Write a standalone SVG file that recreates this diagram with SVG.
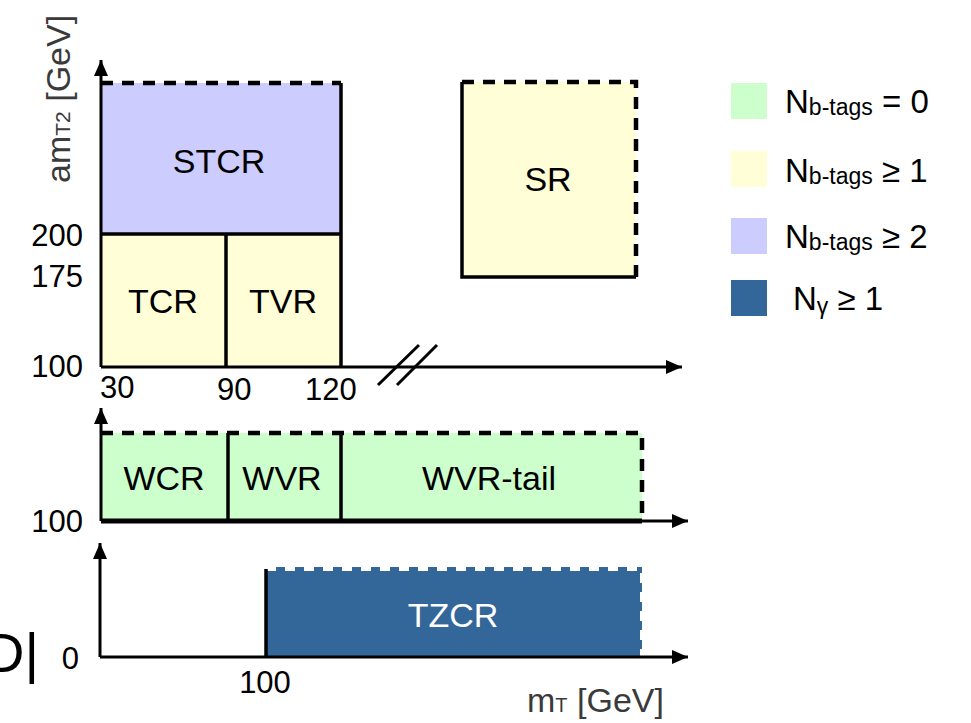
<svg xmlns="http://www.w3.org/2000/svg" width="971" height="723" viewBox="0 0 971 723">
<style>
text{font-family:"Liberation Sans",Arial,sans-serif;fill:#000}
.lbl{font-size:34px;text-anchor:middle}
.tick{font-size:31px}
.title{font-size:34px;fill:#3a3a3a}
.leg{font-size:33px}
.sub{font-size:23px}
.axis{stroke:#000;stroke-width:3;fill:none}
.solid{stroke:#000;stroke-width:3.5;fill:none}
.dash{stroke:#000;stroke-width:4.5;stroke-dasharray:12 9;fill:none}
.wdash{stroke:#fff;stroke-width:4;stroke-dasharray:10 9;fill:none}
.blue{fill:#336699}
.yel{fill:#fffed6}
.lav{fill:#ccccff}
.grn{fill:#ccffcc}
</style>
<defs>
<marker id="arr" viewBox="0 0 16 14" refX="16" refY="7" markerWidth="16" markerHeight="14" markerUnits="userSpaceOnUse" orient="auto">
<path d="M0,0 L16,7 L0,14 z" fill="#000"/>
</marker>
</defs>
<rect width="971" height="723" fill="#fff"/>

<!-- top panel -->
<g id="STCR">
<rect x="101" y="83" width="240" height="151" class="lav"/>
<text x="219" y="173" class="lbl">STCR</text>
</g>
<g id="TCR">
<rect x="101" y="234" width="125" height="133" class="yel"/>
<text x="163" y="313" class="lbl">TCR</text>
</g>
<g id="TVR">
<rect x="226" y="234" width="115" height="133" class="yel"/>
<text x="283" y="313" class="lbl">TVR</text>
</g>
<g id="SR">
<rect x="462" y="82" width="174" height="195" class="yel"/>
<path d="M462,82 V277 H636" class="solid"/>
<path d="M462,82 H636 V277" class="dash"/>
<text x="548" y="191" class="lbl">SR</text>
</g>

<!-- middle panel -->
<g id="WCR">
<rect x="101" y="433" width="127" height="88" class="grn"/>
<text x="164" y="490" class="lbl">WCR</text>
</g>
<g id="WVR">
<rect x="228" y="433" width="113" height="88" class="grn"/>
<text x="282" y="490" class="lbl">WVR</text>
</g>
<g id="WVR-tail">
<rect x="341" y="433" width="301" height="88" class="grn"/>
<text x="489" y="490" class="lbl">WVR-tail</text>
</g>

<!-- bottom panel -->
<g id="TZCR">
<rect x="266" y="567" width="376" height="90" class="blue"/>
<path d="M266,569 H642 V657" class="wdash"/>
<line x1="266" y1="569" x2="266" y2="657" class="solid" stroke-width="3"/>
<text x="453" y="627" class="lbl" style="fill:#fff">TZCR</text>
</g>

<g id="connectors">
<path d="M101,83 H341" class="dash"/>
<path d="M341,83 V367 M101,234 H341 M226,234 V367" class="solid"/>
<line x1="101" y1="367" x2="101" y2="60" class="axis" marker-end="url(#arr)"/>
<line x1="101" y1="367" x2="682" y2="367" class="axis" marker-end="url(#arr)"/>
<path d="M378,385 L419,345 M397,385 L437,345" class="axis"/>
<path d="M101,433 H642 V521" class="dash"/>
<path d="M228,433 V521 M341,433 V521" class="solid"/>
<path d="M101,521 H642" stroke="#000" stroke-width="5"/>
<line x1="101" y1="521" x2="101" y2="408" class="axis" marker-end="url(#arr)"/>
<line x1="101" y1="521" x2="688" y2="521" class="axis" marker-end="url(#arr)"/>
<line x1="100" y1="657" x2="100" y2="543" class="axis" marker-end="url(#arr)"/>
<line x1="100" y1="657" x2="688" y2="657" class="axis" marker-end="url(#arr)"/>
</g>

<g id="ticks">
<text x="83" y="246" class="tick" text-anchor="end">200</text>
<text x="83" y="287" class="tick" text-anchor="end">175</text>
<text x="83" y="377" class="tick" text-anchor="end">100</text>
<text x="100" y="398" class="tick">30</text>
<text x="217" y="400" class="tick">90</text>
<text x="305" y="400" class="tick">120</text>
<text x="83" y="532" class="tick" text-anchor="end">100</text>
<text x="79" y="669" class="tick" text-anchor="end">0</text>
<text x="265" y="693" class="tick" text-anchor="middle">100</text>
<text x="-16" y="672" style="font-size:56px">D|</text>
</g>

<g id="axis-titles">
<text class="title" transform="translate(70,183) rotate(-90)">am<tspan style="font-size:21px">T2</tspan> [GeV]</text>
<text class="title" x="527" y="712">m<tspan style="font-size:20px">T</tspan> [GeV]</text>
</g>

<g id="legend">
<rect x="731" y="83" width="36" height="36" class="grn"/>
<text x="785" y="113" class="leg">N<tspan class="sub" dy="2">b-tags</tspan><tspan dy="-2"> = 0</tspan></text>
<rect x="731" y="151" width="36" height="36" class="yel"/>
<text x="785" y="182" class="leg">N<tspan class="sub" dy="2">b-tags</tspan><tspan dy="-2"> ≥ 1</tspan></text>
<rect x="731" y="218" width="36" height="36" class="lav"/>
<text x="785" y="248" class="leg">N<tspan class="sub" dy="2">b-tags</tspan><tspan dy="-2"> ≥ 2</tspan></text>
<rect x="731" y="280" width="36" height="36" class="blue"/>
<text x="793" y="310" class="leg">N<tspan class="sub" dy="4">γ</tspan><tspan dy="-4"> ≥ 1</tspan></text>
</g>
</svg>
